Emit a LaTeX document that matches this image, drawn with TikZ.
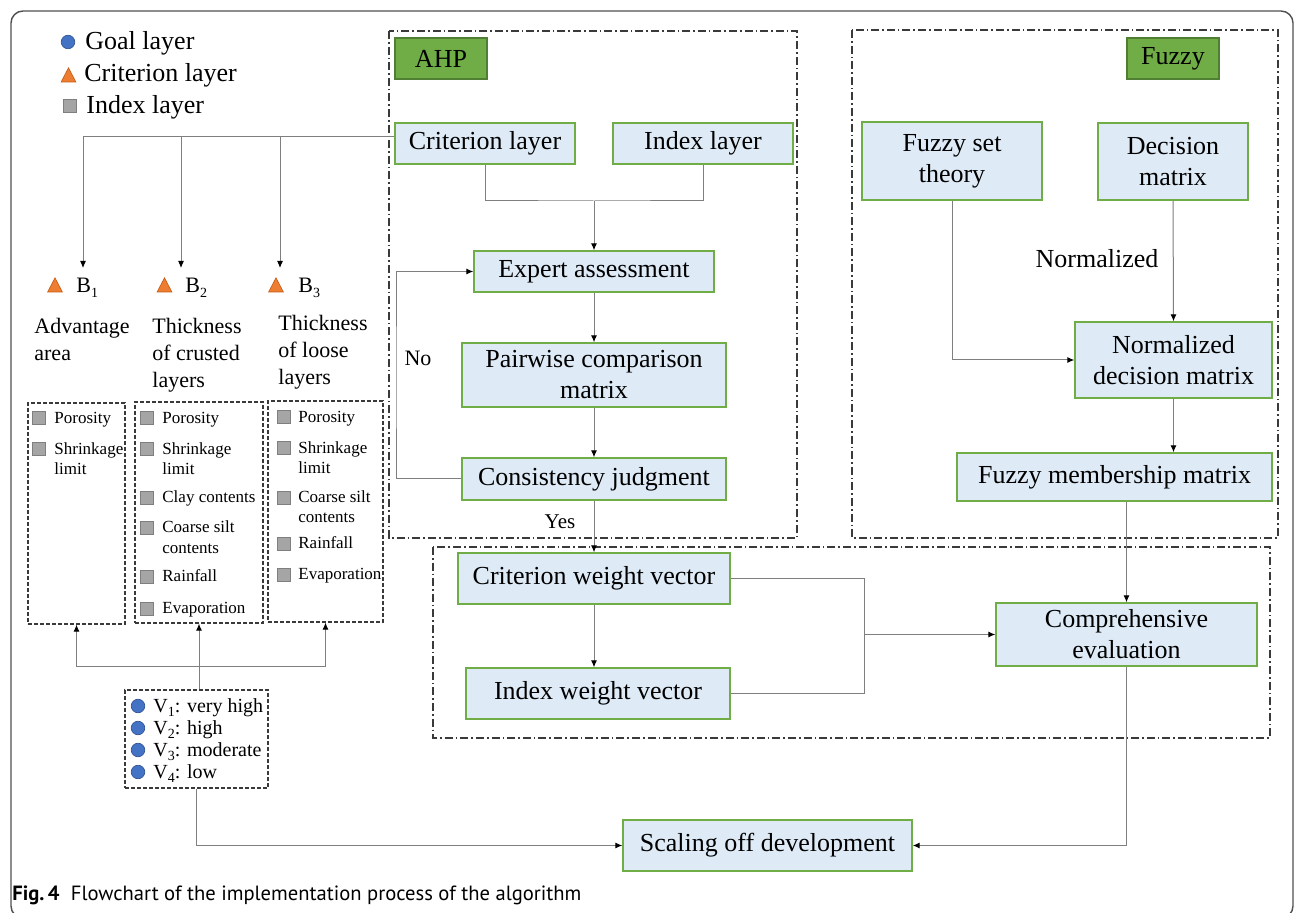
\documentclass[tikz,border=0pt]{standalone}
\usepackage{fontspec}
\setmainfont{Liberation Serif}
\newfontfamily\capfont{PT Sans}
\usetikzlibrary{arrows.meta}
\definecolor{boxfill}{HTML}{DEEBF7}
\definecolor{boxline}{HTML}{70AD47}
\definecolor{lblfill}{HTML}{70AD47}
\definecolor{lblline}{HTML}{507E32}
\definecolor{goalblue}{HTML}{4472C4}
\definecolor{goalline}{HTML}{2F528F}
\definecolor{critorange}{HTML}{ED7D31}
\definecolor{critline}{HTML}{C55A11}
\definecolor{idxgray}{HTML}{A5A5A5}
\definecolor{idxline}{HTML}{7F7F7F}
\definecolor{conncol}{HTML}{7F7F7F}
\definecolor{framec}{HTML}{3A3A3A}
\definecolor{outerc}{HTML}{505050}
\newcommand\lowsub[1]{\raisebox{-0.45ex}{\fontsize{7}{7}\selectfont #1}}
\tikzset{
  procbox/.style={draw=boxline, fill=boxfill, line width=0.7pt, inner sep=0pt, align=center, font=\fontsize{13}{15.5}\selectfont},
  tagbox/.style={draw=lblline, fill=lblfill, line width=0.6pt, inner sep=0pt, font=\fontsize{13}{15.5}\selectfont},
  groupframe/.style={draw=framec, line width=0.6pt, dash pattern=on 4pt off 1.5pt on 0.8pt off 1.5pt},
  dashbox/.style={draw=framec, line width=0.6pt, dash pattern=on 1.8pt off 1.2pt, inner sep=0pt},
  conn/.style={draw=conncol, line width=0.5pt},
  arr/.style={conn, -{Latex[length=3.5pt,width=3pt,color=black]}},
  legtxt/.style={anchor=base west, inner sep=0pt, font=\fontsize{13}{15}\selectfont},
  headtxt/.style={anchor=base west, inner sep=0pt, font=\fontsize{11}{13}\selectfont},
  itemtxt/.style={anchor=base west, inner sep=0pt, font=\fontsize{8.5}{10}\selectfont},
  vtxt/.style={anchor=base west, inner sep=0pt, font=\fontsize{10}{12}\selectfont},
  pics/idxsq/.style={code={\filldraw[draw=idxline, fill=idxgray, line width=0.4pt] (-3.3pt,-3.3pt) rectangle (3.3pt,3.3pt);}},
  pics/goaldot/.style={code={\filldraw[draw=goalline, fill=goalblue, line width=0.3pt] (0,0) circle (3.4pt);}},
  pics/critri/.style={code={\filldraw[draw=critline, fill=critorange, line width=0.3pt] (-3.7pt,-3.5pt) -- (3.7pt,-3.5pt) -- (0,3.6pt) -- cycle;}},
}
\begin{document}
\begin{tikzpicture}[x=0.5pt, y=-0.5pt]
\useasboundingbox (0,0) rectangle (1295,913);
\clip (0,0) rectangle (1295,913);
\fill[white] (0,0) rectangle (1295,913);
% outer frame
\draw[draw=outerc, line width=0.7pt, rounded corners=6pt] (11,11) rectangle (1293,918);

% group frames
\draw[groupframe] (389,31) rectangle (797,538);
\draw[groupframe] (852,30) rectangle (1278,538);
\draw[groupframe] (433,547) rectangle (1270,738);

% legend
\pic at (68,42) {goaldot};
\node[legtxt] (lg1) at (85,50) {Goal layer};
\pic at (68.5,75) {critri};
\node[legtxt] (lg2) at (84,82) {Criterion layer};
\pic at (70,106) {idxsq};
\node[legtxt] (lg3) at (86,114) {Index layer};

% AHP part
\node[tagbox, minimum width=46pt, minimum height=20.5pt] (ahp) at (441,58.5) {AHP};
\node[procbox, minimum width=90pt, minimum height=20.5pt] (crit) at (485,143.5) {Criterion layer};
\node[procbox, minimum width=90pt, minimum height=20.5pt] (idx) at (703,143.5) {Index layer};
\node[procbox, minimum width=120pt, minimum height=20.5pt] (expert) at (594,271.5) {Expert assessment};
\node[procbox, minimum width=132pt, minimum height=32pt] (pair) at (594,375) {Pairwise comparison\\matrix};
\node[procbox, minimum width=132pt, minimum height=21pt] (cons) at (594,479) {Consistency judgment};

% Fuzzy part
\node[tagbox, minimum width=46pt, minimum height=20.5pt] (fuzzy) at (1173,58.5) {Fuzzy};
\node[procbox, minimum width=90pt, minimum height=39pt] (fst) at (952,161) {Fuzzy set\\theory};
\node[procbox, minimum width=75pt, minimum height=38.5pt] (dm) at (1173,161.5) {Decision\\matrix};
\node[procbox, minimum width=98.5pt, minimum height=38pt] (ndm) at (1173.5,360) {Normalized\\decision matrix};
\node[procbox, minimum width=157.5pt, minimum height=24pt] (fmm) at (1114.5,477) {Fuzzy membership matrix};
\node[inner sep=0pt, font=\fontsize{13}{15}\selectfont] (normlbl) at (1097,259) {Normalized};

% lower part
\node[procbox, minimum width=136pt, minimum height=25.5pt] (cwv) at (594,578.5) {Criterion weight vector};
\node[procbox, minimum width=132pt, minimum height=25.5pt] (iwv) at (598,693.5) {Index weight vector};
\node[procbox, minimum width=130.5pt, minimum height=31.5pt] (ce) at (1126.5,634.5) {Comprehensive\\evaluation};
\node[procbox, minimum width=144.5pt, minimum height=25.5pt] (sod) at (767.5,845.5) {Scaling off development};

% left column: criteria
\pic at (55,285) {critri};
\node[headtxt] (bl1) at (76,293) {B\lowsub{1}};
\pic at (164.5,285) {critri};
\node[headtxt] (bl2) at (185,293) {B\lowsub{2}};
\pic at (276,285) {critri};
\node[headtxt] (bl3) at (298,293) {B\lowsub{3}};

\node[headtxt] (h1a) at (34,334) {Advantage};
\node[headtxt] (h1b) at (34,361) {area};
\node[headtxt] (h2a) at (152,334) {Thickness};
\node[headtxt] (h2b) at (152,361) {of crusted};
\node[headtxt] (h2c) at (152,388) {layers};
\node[headtxt] (h3a) at (278,331) {Thickness};
\node[headtxt] (h3b) at (278,358) {of loose};
\node[headtxt] (h3c) at (278,385) {layers};

% index boxes
\node[dashbox, minimum width=48.5pt, minimum height=110.5pt] (b1box) at (76.5,513.5) {};
\node[dashbox, minimum width=64pt, minimum height=110.5pt] (b2box) at (199,512.5) {};
\node[dashbox, minimum width=57.5pt, minimum height=110.5pt] (b3box) at (325.5,511.5) {};

\pic at (38.5,418) {idxsq};
\node[itemtxt] (i11) at (54,424) {Porosity};
\pic at (38.5,449) {idxsq};
\node[itemtxt] (i12) at (54,455) {Shrinkage};
\node[itemtxt] (i12b) at (54,475) {limit};

\pic at (146.5,418) {idxsq};
\node[itemtxt] (i21) at (162,424) {Porosity};
\pic at (146.5,449) {idxsq};
\node[itemtxt] (i22) at (162,455) {Shrinkage};
\node[itemtxt] (i22b) at (162,475) {limit};
\pic at (146.5,498) {idxsq};
\node[itemtxt] (i23) at (162,503) {Clay contents};
\pic at (146.5,528) {idxsq};
\node[itemtxt] (i24) at (162,533) {Coarse silt};
\node[itemtxt] (i24b) at (162,554) {contents};
\pic at (146.5,577) {idxsq};
\node[itemtxt] (i25) at (162,582) {Rainfall};
\pic at (146.5,609) {idxsq};
\node[itemtxt] (i26) at (162,614) {Evaporation};

\pic at (283.5,417) {idxsq};
\node[itemtxt] (i31) at (298,423) {Porosity};
\pic at (283.5,448) {idxsq};
\node[itemtxt] (i32) at (298,454) {Shrinkage};
\node[itemtxt] (i32b) at (298,474) {limit};
\pic at (283.5,498) {idxsq};
\node[itemtxt] (i33) at (298,503) {Coarse silt};
\node[itemtxt] (i33b) at (298,523) {contents};
\pic at (283.5,544) {idxsq};
\node[itemtxt] (i34) at (298,549) {Rainfall};
\pic at (283.5,575) {idxsq};
\node[itemtxt] (i35) at (298,580) {Evaporation};

% V box
\node[dashbox, minimum width=71.5pt, minimum height=49pt] (vbox) at (196.5,739) {};
\pic at (138,706) {goaldot};
\node[vtxt] (v1) at (153,712) {V\lowsub{1}: very high};
\pic at (138,728) {goaldot};
\node[vtxt] (v2) at (153,734) {V\lowsub{2}: high};
\pic at (138,750) {goaldot};
\node[vtxt] (v3) at (153,756) {V\lowsub{3}: moderate};
\pic at (138,772) {goaldot};
\node[vtxt] (v4) at (153,778) {V\lowsub{4}: low};

% labels
\node[inner sep=0pt, font=\fontsize{11}{13}\selectfont] (nolbl) at (418,358) {No};
\node[inner sep=0pt, font=\fontsize{10.5}{12}\selectfont] (yeslbl) at (560,522) {Yes};

% caption
\node[anchor=base west, inner sep=0pt, font=\capfont\fontsize{10.3}{12}\selectfont] (cap) at (12,900) {\textbf{Fig.\,4}\hspace{0.55em}Flowchart of the implementation process of the algorithm};

% connectors: top distribution
\coordinate (t1) at (83,136.5);
\coordinate (t2) at (181,136.5);
\coordinate (t3) at (280,136.5);
\coordinate (a1) at (83,268);
\coordinate (a2) at (181,268);
\coordinate (a3) at (280,268);
\draw[conn] (crit.west |- t1) -- (t1);
\draw[arr] (t1) -- (a1);
\draw[arr] (t2) -- (a2);
\draw[arr] (t3) -- (a3);

% bottom distribution from V box
\coordinate (jb) at (199,667);
\draw[conn] (b1box.south |- jb) -- (b3box.south |- jb);
\draw[arr] (b1box.south |- jb) -- (b1box.south);
\draw[arr] (b3box.south |- jb) -- (b3box.south);
\draw[arr] (b2box.south |- vbox.north) -- (b2box.south);
\draw[arr] (vbox.south) |- (sod.west);

% AHP flow
\coordinate (j1) at (594,201);
\draw[conn] (crit.south) |- (j1) -| (idx.south);
\draw[arr] (j1) -- (expert.north);
\draw[arr] (expert.south) -- (pair.north);
\draw[arr] (pair.south) -- (cons.north);
\coordinate (fb) at (396,380);
\draw[arr] (cons.west) -| (fb) |- (expert.west);
\draw[arr] (cons.south) -- (cwv.north);

% Fuzzy flow
\draw[arr] (fst.south) |- (ndm.west);
\draw[arr] (dm.south) -- (ndm.north);
\draw[arr] (ndm.south) -- (ndm.south |- fmm.north);
\draw[arr] (ce.north |- fmm.south) -- (ce.north);

% lower flow
\draw[arr] (cwv.south) -- (cwv.south |- iwv.north);
\coordinate (jn) at (864,634.5);
\draw[conn] (cwv.east) -| (jn) |- (iwv.east);
\draw[arr] (jn) -- (ce.west);
\draw[arr] (ce.south) |- (sod.east);
\end{tikzpicture}
\end{document}
